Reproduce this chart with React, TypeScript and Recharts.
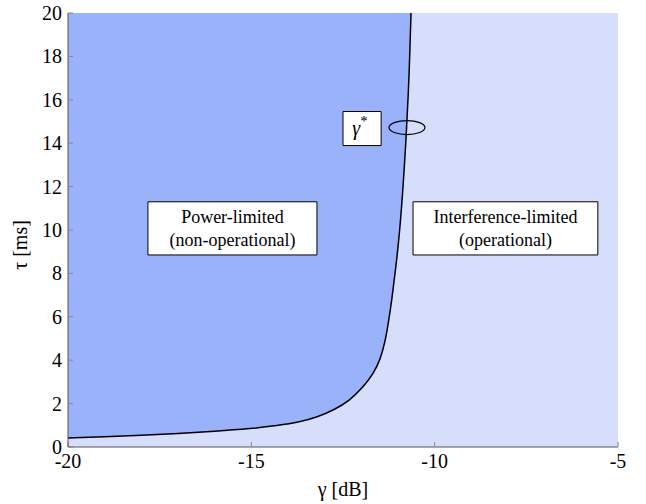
import {
  ComposedChart, Area, Line, XAxis, YAxis, CartesianGrid,
  ReferenceArea, ReferenceDot,
} from "recharts";

// boundary curve gamma*(tau)
const gammaDb = [
  -20, -19, -18, -17, -16, -15, -14.3, -13.67, -13.2, -12.76, -12.31, -11.95,
  -11.67, -11.49, -11.35, -11.26, -11.17, -11.05, -10.95, -10.86, -10.78,
  -10.72, -10.68, -10.645,
];
const tauMs = [
  0.42, 0.47, 0.54, 0.62, 0.72, 0.85, 0.98, 1.15, 1.38, 1.69, 2.15, 2.76,
  3.38, 4.0, 4.85, 5.75, 6.76, 8.4, 10.0, 12.0, 14.2,
  16.2, 18.0, 20,
];

const xTicks = [-20, -15, -10, -5];
const yTicks = [0, 2, 4, 6, 8, 10, 12, 14, 16, 18, 20];
const xDomain: [number, number] = [-20, -5];
const yDomain: [number, number] = [0, 20];

const powerLabel = ["Power-limited", "(non-operational)"];
const interfLabel = ["Interference-limited", "(operational)"];

const FONT = "'Liberation Serif', 'Times New Roman', serif";
const DARK = "#9ab2fa";
const LIGHT = "#d7defb";
const AXIS = "#555";

const data = gammaDb.map((g, i) => ({
  g,
  tau: tauMs[i],
  band: [tauMs[i], yDomain[1]],
}));

const XTick = ({ x, y, payload }: any) => (
  <text x={x} y={y + 12} textAnchor="middle" fontFamily={FONT} fontSize={20} fill="#000">
    {payload.value}
  </text>
);

const YTick = ({ x, y, payload }: any) => (
  <text x={x} y={y + 7} textAnchor="end" fontFamily={FONT} fontSize={20} fill="#000">
    {payload.value}
  </text>
);

const BoxText = ({ viewBox, lines }: any) => {
  if (!viewBox) return null;
  const cx = viewBox.x + viewBox.width / 2;
  const cy = viewBox.y + viewBox.height / 2;
  return (
    <text x={cx} y={cy} textAnchor="middle" fontFamily={FONT} fontSize={18} fill="#000">
      <tspan x={cx} dy={-5}>{lines[0]}</tspan>
      <tspan x={cx} dy={23}>{lines[1]}</tspan>
    </text>
  );
};

const StarText = ({ viewBox }: any) => {
  if (!viewBox) return null;
  const cx = viewBox.x + viewBox.width / 2;
  const cy = viewBox.y + viewBox.height / 2;
  return (
    <text x={cx - 2} y={cy + 6} textAnchor="middle" fontFamily={FONT} fontSize={20} fill="#000">
      <tspan fontStyle="italic">γ</tspan>
      <tspan dy={-9} fontSize={15}>*</tspan>
    </text>
  );
};

const XTitle = ({ viewBox }: any) => (
  <text x={viewBox.x + viewBox.width / 2} y={viewBox.y + 49} textAnchor="middle"
    fontFamily={FONT} fontSize={20} fill="#000">
    γ [dB]
  </text>
);

const YTitle = ({ viewBox }: any) => {
  const x = viewBox.x + 19;
  const y = viewBox.y + viewBox.height / 2 + 15;
  return (
    <text x={x} y={y} transform={`rotate(-90 ${x} ${y})`} textAnchor="middle"
      fontFamily={FONT} fontSize={20} fill="#000">
      τ [ms]
    </text>
  );
};

export default function App() {
  return (
    <div style={{ position: "absolute", left: 0, top: 0, fontFamily: FONT }}>
      <ComposedChart width={646} height={504} data={data}
        margin={{ top: 13, right: 28, bottom: 7, left: 8 }}>
        <CartesianGrid horizontal={false} vertical={false} fill={LIGHT} fillOpacity={1} />
        <XAxis dataKey="g" type="number" domain={xDomain} ticks={xTicks}
          allowDataOverflow height={50} tick={<XTick />} tickSize={-5} tickMargin={14}
          tickLine={{ stroke: "#888" }} axisLine={{ stroke: AXIS }}
          label={<XTitle />} />
        <XAxis xAxisId="top" orientation="top" type="number" domain={xDomain}
          ticks={xTicks} allowDataOverflow height={0} tick={false} tickSize={-5}
          tickLine={{ stroke: "#888" }} axisLine={{ stroke: "#333" }} />
        <YAxis type="number" domain={yDomain} ticks={yTicks} allowDataOverflow
          width={60} tick={<YTick />} tickSize={-5} tickMargin={11}
          tickLine={{ stroke: "#888" }} axisLine={{ stroke: AXIS }}
          label={<YTitle />} />
        <YAxis yAxisId="right" orientation="right" type="number" domain={yDomain}
          ticks={yTicks} allowDataOverflow width={0} tick={false} tickSize={-5}
          tickLine={{ stroke: "#888" }} axisLine={{ stroke: AXIS }} />
        <Area dataKey="band" type="basis" fill={DARK} fillOpacity={1}
          stroke="none" isAnimationActive={false} />
        <Line dataKey="tau" type="basis" stroke="#000" strokeWidth={1.5}
          dot={false} isAnimationActive={false} />
        <ReferenceArea x1={-17.82} x2={-13.21} y1={8.85} y2={11.3}
          fill="#fff" fillOpacity={1} stroke="#000" strokeWidth={1}
          label={<BoxText lines={powerLabel} />} />
        <ReferenceArea x1={-10.59} x2={-5.55} y1={8.85} y2={11.3}
          fill="#fff" fillOpacity={1} stroke="#000" strokeWidth={1}
          label={<BoxText lines={interfLabel} />} />
        <ReferenceArea x1={-12.5} x2={-11.46} y1={13.89} y2={15.46}
          fill="#fff" fillOpacity={1} stroke="#000" strokeWidth={1}
          label={<StarText />} />
        <ReferenceDot x={-10.755} y={14.72} r={1}
          shape={(p: any) => (
            <ellipse cx={p.cx} cy={p.cy} rx={18} ry={7} fill="none" stroke="#000" strokeWidth={1.2} />
          )} />
      </ComposedChart>
    </div>
  );
}
